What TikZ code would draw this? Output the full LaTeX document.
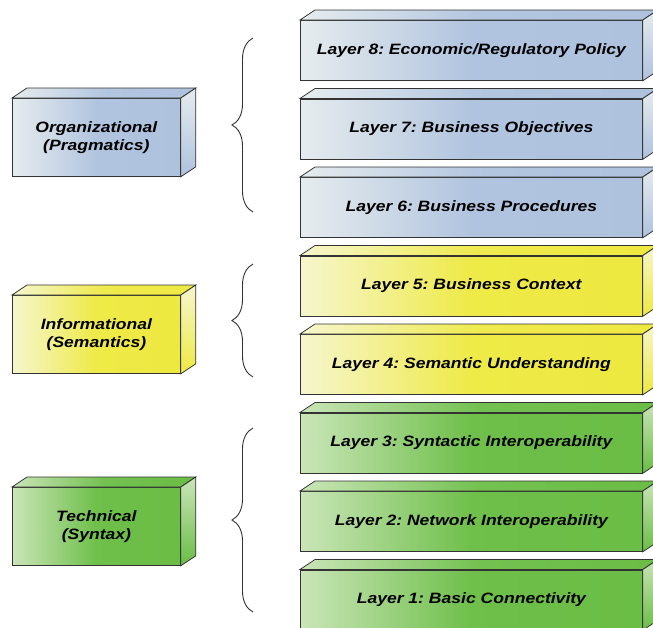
\documentclass[tikz,border=0pt]{standalone}
\usepackage{fontspec}
\setmainfont{Liberation Sans}[FakeStretch=1.17]
\usetikzlibrary{decorations.pathreplacing}
\definecolor{orgL}{HTML}{E6ECEE}
\definecolor{orgD}{HTML}{AEC2DE}
\definecolor{infL}{HTML}{F6F6CE}
\definecolor{infD}{HTML}{EEE940}
\definecolor{tecL}{HTML}{CAE5B8}
\definecolor{tecD}{HTML}{6ABD45}
\tikzset{
  facedraw/.style={draw=black!80, line width=0.8pt},
  face/.style={facedraw, left color=#1L, right color=#1D, middle color=#1D!95!#1L},
  label/.style={font=\bfseries\itshape\fontsize{15}{18}\selectfont, text=black},
  layer/.style={label, minimum width=342pt, minimum height=60pt, inner sep=0pt, anchor=north west},
  group/.style={label, minimum width=168pt, minimum height=78pt, inner sep=0pt, anchor=north west, align=center},
  brace/.style={draw=black!80, line width=0.9pt, decorate, decoration={brace, amplitude=21pt}}
}
\newcommand{\cubefaces}[2]{%
  \path[facedraw, left color=#2L, right color=#2D, middle color=#2D!90!#2L] (#1.north west) -- ++(15,-10)
    -- ([shift={(15,-10)}]#1.north east) -- (#1.north east) -- cycle;
  \path[facedraw, top color=#2L, bottom color=#2D] (#1.north east) -- ++(15,-10)
    -- ([shift={(15,-10)}]#1.south east) -- (#1.south east) -- cycle;
}
\frenchspacing
\begin{document}
\begin{tikzpicture}[x=1pt,y=-1pt]
\useasboundingbox (0,0) rectangle (653,627);
\clip (0,0) rectangle (653,627);

\node[group, face=org] (org) at (12,98) {Organizational\\(Pragmatics)};
\node[group, face=inf] (inf) at (12,295) {Informational\\(Semantics)};
\node[group, face=tec] (tec) at (12,487) {Technical\\(Syntax)};

\node[layer, face=org] (l8) at (300,20) {Layer 8: Economic/Regulatory Policy};
\node[layer, face=org] (l7) at (300,98.5) {Layer 7: Business Objectives};
\node[layer, face=org] (l6) at (300,177) {Layer 6: Business Procedures};
\node[layer, face=inf] (l5) at (300,255.5) {Layer 5: Business Context};
\node[layer, face=inf] (l4) at (300,334) {Layer 4: Semantic Understanding};
\node[layer, face=tec] (l3) at (300,412.5) {Layer 3: Syntactic Interoperability};
\node[layer, face=tec] (l2) at (300,491) {Layer 2: Network Interoperability};
\node[layer, face=tec] (l1) at (300,569.5) {Layer 1: Basic Connectivity};

\foreach \n/\c in {org/org,inf/inf,tec/tec,l8/org,l7/org,l6/org,l5/inf,l4/inf,l3/tec,l2/tec,l1/tec}
  {\cubefaces{\n}{\c}}

\coordinate (b1t) at (253,38);
\coordinate (b1b) at (253,212);
\coordinate (b2t) at (253,264);
\coordinate (b2b) at (253,377);
\coordinate (b3t) at (253,428);
\coordinate (b3b) at (253,612);
\draw[brace] (b1b) -- (b1t);
\draw[brace] (b2b) -- (b2t);
\draw[brace] (b3b) -- (b3t);
\end{tikzpicture}
\end{document}
